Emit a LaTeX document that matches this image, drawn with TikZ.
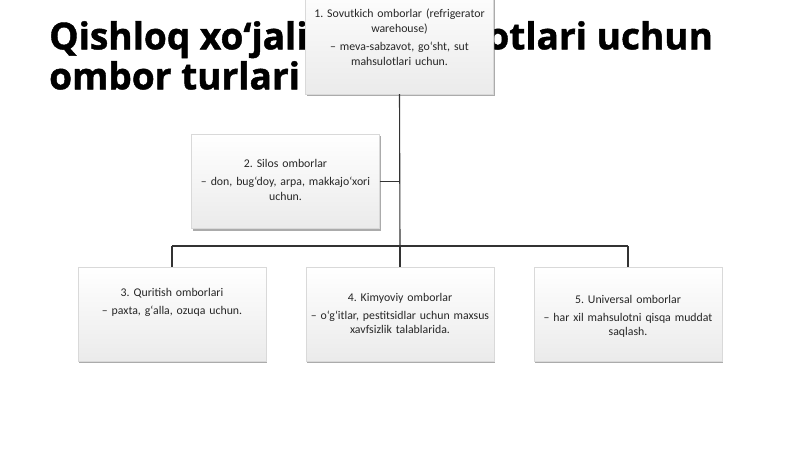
\documentclass[tikz,border=0pt]{standalone}
\usepackage{fontspec}
\setmainfont{Carlito}
\newfontfamily\titlefont[BoldFeatures={FakeBold=1.2}]{Open Sans}
\usetikzlibrary{shadows,calc}
\frenchspacing
\begin{document}
\begin{tikzpicture}[x=1pt,y=-1pt,
  boxstyle/.style={rectangle, draw=gray!30, line width=0.4pt,
    top color=white, bottom color=gray!16, minimum width=188pt, minimum height=94pt,
    inner sep=0pt, drop shadow={shadow xshift=1.2pt, shadow yshift=-2pt, opacity=0.5, fill=black!65}},
  boxtext/.style={anchor=north, align=center, text width=184pt, inner sep=0pt,
    font=\fontsize{11.8}{14.5}\selectfont, text=black!85},
  conn/.style={draw=black!80, line width=1.1pt}]
\useasboundingbox (0,0) rectangle (800,449);
\fill[white] (0,0) rectangle (800,449);
% title
\node[anchor=north west, align=left, inner sep=0pt, font=\titlefont\bfseries\fontsize{37}{40}\selectfont, text=black] (title) at (49,21)
  {Qishloq xo‘jaligi mahsulotlari uchun\\ombor turlari};
% boxes
\node[boxstyle, minimum height=111pt] (b1) at (399.5,38.5) {};
\node[boxstyle] (b2) at (285.5,181.5) {};
\node[boxstyle] (b3) at (172,314) {};
\node[boxstyle] (b4) at (400,314) {};
\node[boxstyle] (b5) at (628,314) {};
% texts
\node[boxtext] (t1) at (399.5,9) {1. Sovutkich omborlar (refrigerator\\warehouse)\\[4pt]– meva-sabzavot, go‘sht, sut\\mahsulotlari uchun.};
\node[boxtext] (t2) at ($(b2.north)+(0,25)$) {2. Silos omborlar\\[3.5pt]– don, bug‘doy, arpa, makkajo‘xori\\uchun.};
\node[boxtext] (t3) at ($(b3.north)+(0,21)$) {3. Quritish omborlari\\[3.5pt]– paxta, g‘alla, ozuqa uchun.};
\node[boxtext] (t4) at ($(b4.north)+(0,26)$) {4. Kimyoviy omborlar\\[3.5pt]– o‘g‘itlar, pestitsidlar uchun maxsus\\xavfsizlik talablarida.};
\node[boxtext] (t5) at ($(b5.north)+(0,28)$) {5. Universal omborlar\\[3.5pt]– har xil mahsulotni qisqa muddat\\saqlash.};
% connectors
\coordinate (j) at (400,246);
\coordinate (l) at (172,246);
\coordinate (r) at (628,246);
\draw[conn] (b1.south) -- (j);
\draw[conn] (b2.east) -- (b2.east -| j);
\draw[conn] (l) -- (r);
\draw[conn] (l) -- (b3.north);
\draw[conn] (j) -- (b4.north);
\draw[conn] (r) -- (b5.north);
\end{tikzpicture}
\end{document}
